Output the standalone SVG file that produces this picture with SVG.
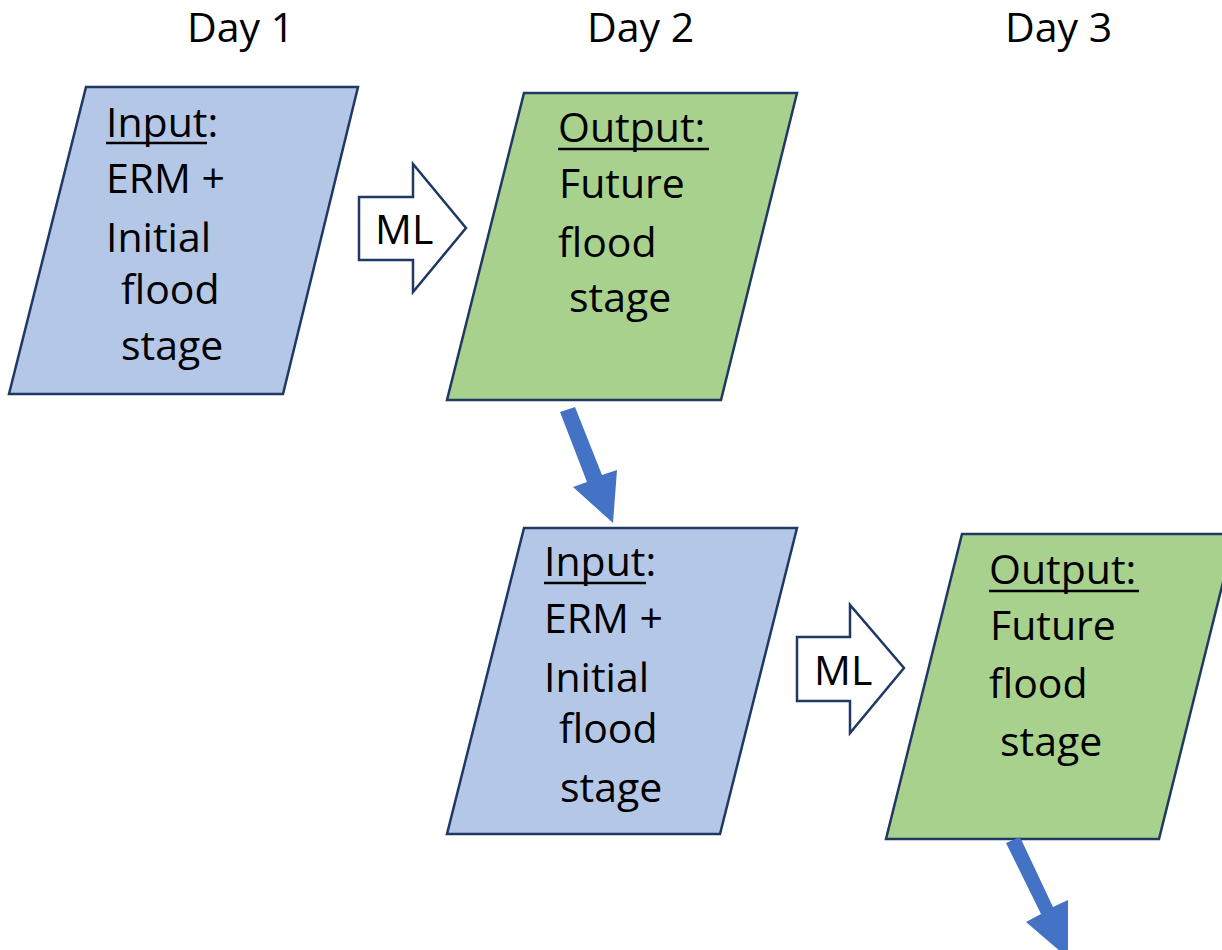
<svg xmlns="http://www.w3.org/2000/svg" width="1222" height="950" viewBox="0 0 1222 950">
<style>
text{font-family:"Open Sans","Liberation Sans",sans-serif;font-size:41px;fill:#000}
.in{fill:#B4C7E7;stroke:#1F3864;stroke-width:2.5}
.out{fill:#A9D18E;stroke:#1F3864;stroke-width:2.5}
.ml{fill:#FFFFFF;stroke:#1F3864;stroke-width:2.5}
.flow{fill:#4472C4}
.ul{stroke:#000;stroke-width:2.5}
</style>
<rect width="1222" height="950" fill="#FFFFFF"/>
<g id="headers">
<text x="187" y="42">Day 1</text>
<text x="587" y="42">Day 2</text>
<text x="1005" y="42">Day 3</text>
</g>
<g id="input1">
<polygon class="in" points="86,87 358,87 283,394 9,394"/>
<text x="106" y="137">Input:</text>
<line class="ul" x1="106" y1="143" x2="207" y2="143"/>
<text x="106" y="193">ERM +</text>
<text x="106" y="252">Initial</text>
<text x="121" y="304">flood</text>
<text x="121" y="360">stage</text>
</g>
<g id="output1">
<polygon class="out" points="524,93 797,93 721,400 447,400"/>
<text x="558" y="142">Output:</text>
<line class="ul" x1="558" y1="149" x2="709" y2="149"/>
<text x="559" y="198">Future</text>
<text x="558" y="257">flood</text>
<text x="569" y="312">stage</text>
</g>
<g id="input2">
<polygon class="in" points="524,528 797,528 720,834 447,834"/>
<text x="544" y="576">Input:</text>
<line class="ul" x1="544" y1="583" x2="646" y2="583"/>
<text x="544" y="633">ERM +</text>
<text x="544" y="692">Initial</text>
<text x="559" y="743">flood</text>
<text x="560" y="802">stage</text>
</g>
<g id="output2">
<polygon class="out" points="962,534 1235,534 1159,839 886,839"/>
<text x="989" y="584">Output:</text>
<line class="ul" x1="989" y1="591" x2="1139" y2="591"/>
<text x="990" y="640">Future</text>
<text x="989" y="698">flood</text>
<text x="1000" y="756">stage</text>
</g>
<g id="connectors">
<g id="ml1">
<polygon class="ml" points="359,197 413,197 413,164 466,228 413,292 413,260 359,260"/>
<text x="375" y="244">ML</text>
</g>
<g id="ml2">
<polygon class="ml" points="797,637 850,637 850,605 904,668 850,733 850,701 797,701"/>
<text x="814" y="685">ML</text>
</g>
<polygon class="flow" points="560,412 575,407 602,475 617,470 613,523 573,487 587,482"/>
<polygon class="flow" points="1006,843 1020,837 1053,907 1068,900 1068,958 1026,922 1041,914"/>
</g>
</svg>
